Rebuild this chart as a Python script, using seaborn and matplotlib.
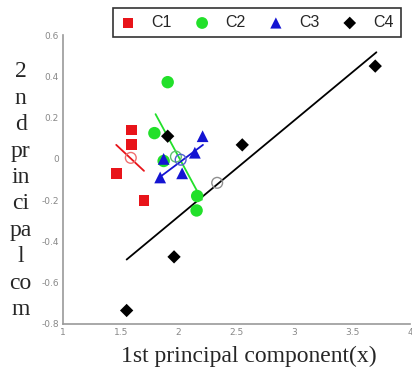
import matplotlib as mpl
import matplotlib.pyplot as plt
import seaborn as sns
import pandas as pd
import numpy as np

# Points per class
c1_x = [1.59, 1.59, 1.46, 1.70]
c1_y = [0.14, 0.068, -0.072, -0.20]
c2_x = [1.905, 1.79, 1.87, 2.16, 2.155]
c2_y = [0.372, 0.125, -0.01, -0.18, -0.25]
c3_x = [2.207, 2.14, 2.03, 1.84, 1.87]
c3_y = [0.11, 0.03, -0.07, -0.09, 0.0]
c4_x = [1.905, 2.55, 3.70, 1.96, 1.55]
c4_y = [0.11, 0.068, 0.45, -0.475, -0.735]

# Class centres (open circles)
centre_x = [1.586, 1.976, 2.017, 2.333]
centre_y = [0.005, 0.011, -0.004, -0.116]

# Principal-axis segments per class: (x0, x1), (y0, y1)
line_x = [(1.46, 1.70), (1.80, 2.20), (1.84, 2.21), (1.55, 3.71)]
line_y = [(0.068, -0.058), (0.217, -0.198), (-0.087, 0.068), (-0.488, 0.517)]

classes = ["C1", "C2", "C3", "C4"]
colors = ["#e8141a", "#22e02a", "#1414d2", "#000000"]
centre_colors = ["#f07070", "#60c070", "#5060d0", "#909090"]
markers = ["s", "o", "^", "D"]
sizes = [62, 80, 72, 46]

xticks = [1, 1.5, 2, 2.5, 3, 3.5, 4]
xtick_labels = ["1", "1.5", "2", "2.5", "3", "3.5", "4"]
yticks = [-0.8, -0.6, -0.4, -0.2, 0, 0.2, 0.4, 0.6]
ytick_labels = ["-0.8", "-0.6", "-0.4", "-0.2", "0", "0.2", "0.4", "0.6"]

df = pd.DataFrame({
    "x": c1_x + c2_x + c3_x + c4_x,
    "y": c1_y + c2_y + c3_y + c4_y,
    "cls": ["C1"] * len(c1_x) + ["C2"] * len(c2_x) + ["C3"] * len(c3_x) + ["C4"] * len(c4_x),
})

sns.set_style("white")
plt.rcParams['font.family'] = ['DejaVu Sans']

fig = plt.figure(figsize=(4.12, 3.74), dpi=100)
ax = fig.add_axes([0.153, 0.134, 0.842, 0.772])

for i, c in enumerate(classes):
    ax.plot(line_x[i], line_y[i], color=colors[i], lw=1.3, zorder=2)

for i, c in enumerate(classes):
    sub = df[df["cls"] == c]
    sns.scatterplot(data=sub, x="x", y="y", ax=ax, color=colors[i], marker=markers[i],
                    s=sizes[i], edgecolor="none", linewidth=0, label=c, zorder=3)

ax.scatter(centre_x, centre_y, s=60, facecolors="none", edgecolors=centre_colors, linewidths=1.0, zorder=4)

ax.set_xlim(1, 4)
ax.set_ylim(-0.8, 0.6)
ax.set_xticks(xticks)
ax.set_xticklabels(xtick_labels)
ax.set_yticks(yticks)
ax.set_yticklabels(ytick_labels)
ax.tick_params(axis="both", direction="in", length=3, width=0.8, color="#999999",
               labelsize=6.5, labelcolor="#888888", pad=3)
for s in ["top", "right"]:
    ax.spines[s].set_visible(False)
for s in ["left", "bottom"]:
    ax.spines[s].set_color("#999999")
    ax.spines[s].set_linewidth(1.2)

ax.set_xlabel("1st principal component(x)", family="Liberation Serif", fontsize=17, labelpad=5)
ax.xaxis.set_label_coords(0.535, -0.075)
fig.text(0.05, 0.49, "2\nn\nd\npr\nin\nci\npa\nl\nco\nm", family="Liberation Serif",
         fontsize=17, ha="center", va="center", linespacing=1.34)
ax.set_ylabel("")

ax.get_legend().remove()
handles, labels = ax.get_legend_handles_labels()
leg = fig.legend(handles[:4], labels[:4], ncol=4, loc="upper left",
                 bbox_to_anchor=(0.255, 1.0), frameon=True, fancybox=False,
                 prop={"family": "Liberation Sans", "size": 11.5},
                 handletextpad=0.95, columnspacing=1.4, handlelength=1.0,
                 borderpad=0.45, markerscale=0.95)
leg.get_frame().set_edgecolor("black")
leg.get_frame().set_linewidth(1.2)

plt.savefig("out.png", dpi=100)
